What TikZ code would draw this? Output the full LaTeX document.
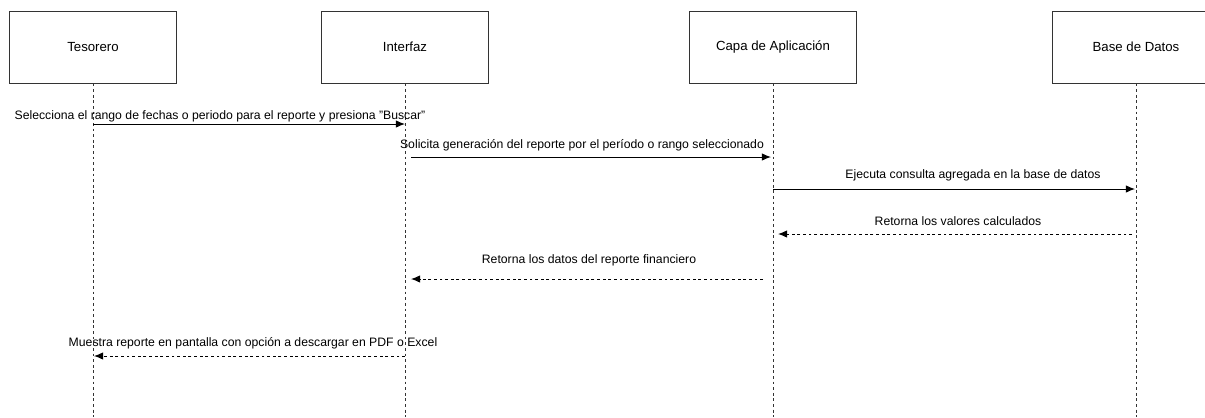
\documentclass[tikz,border=0pt]{standalone}
\usepackage{fontspec}
\setmainfont{Liberation Sans}
\usetikzlibrary{arrows.meta}

\tikzset{
    actor/.style={draw=black!80, line width=0.7pt, fill=white, minimum width=4.175cm, minimum height=1.8cm, font=\fontsize{9.4pt}{11pt}\selectfont},
    lifeline/.style={draw=black!80, line width=0.6pt, dash pattern=on 2pt off 2pt},
    msg/.style={line width=0.7pt, -{Latex[length=2.3mm,width=1.9mm]}},
    reply/.style={msg, dash pattern=on 2pt off 2pt},
    lbl/.style={font=\fontsize{8.7pt}{10pt}\selectfont, inner sep=0pt}
}

\begin{document}
\begin{tikzpicture}[x=0.025cm, y=-0.025cm]
    \useasboundingbox (0,0) rectangle (1205,417);
    \clip (0,0) rectangle (1205,417);

    % participants
    \node[actor] (tes) at (93, 47) {Tesorero};
    \node[actor] (int) at (405, 47) {Interfaz};
    \node[actor] (cap) at (773, 47) {Capa de Aplicación};
    \node[actor] (bd) at (1136, 47) {Base de Datos};

    % lifelines
    \coordinate (tesEnd) at (93, 417);
    \coordinate (intEnd) at (405, 417);
    \coordinate (capEnd) at (773, 417);
    \coordinate (bdEnd) at (1136, 417);
    \draw[lifeline] (tes) -- (tesEnd);
    \draw[lifeline] (int) -- (intEnd);
    \draw[lifeline] (cap) -- (capEnd);
    \draw[lifeline] (bd) -- (bdEnd);

    % message end points
    \coordinate (m1a) at (93, 124);
    \coordinate (m1b) at (405, 124);
    \coordinate (m2a) at (411, 157);
    \coordinate (m2b) at (771, 157);
    \coordinate (m3a) at (773, 189);
    \coordinate (m3b) at (1135, 189);
    \coordinate (m4a) at (1132, 234);
    \coordinate (m4b) at (778, 234);
    \coordinate (m5a) at (763, 279);
    \coordinate (m5b) at (411, 279);
    \coordinate (m6a) at (405, 356);
    \coordinate (m6b) at (94, 356);

    \draw[msg] (m1a) -- (m1b);
    \draw[msg] (m2a) -- (m2b);
    \draw[msg] (m3a) -- (m3b);
    \draw[reply] (m4a) -- (m4b);
    \draw[reply] (m5a) -- (m5b);
    \draw[reply] (m6a) -- (m6b);

    % labels
    \node[lbl] (l1) at (220, 116) {Selecciona el rango de fechas o periodo para el reporte y presiona "Buscar"};
    \node[lbl] (l2) at (582, 145) {Solicita generación del reporte por el período o rango seleccionado};
    \node[lbl] (l3) at (973, 175) {Ejecuta consulta agregada en la base de datos};
    \node[lbl] (l4) at (958, 221) {Retorna los valores calculados};
    \node[lbl] (l5) at (589, 260) {Retorna los datos del reporte financiero};
    \node[lbl] (l6) at (253, 343) {Muestra reporte en pantalla con opción a descargar en PDF o Excel};
\end{tikzpicture}
\end{document}
